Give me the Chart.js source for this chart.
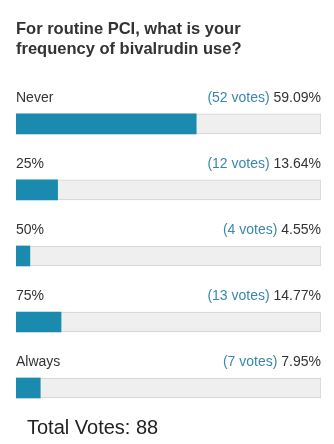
<!DOCTYPE html>
<html>
<head>
<meta charset="utf-8">
<script src="https://cdn.jsdelivr.net/npm/chart.js@4"></script>
<style>
  html, body { margin: 0; padding: 0; background: #ffffff; }
  #wrap { width: 334px; height: 444px; position: relative; }
</style>
</head>
<body>
<div id="wrap"><canvas id="poll"></canvas></div>
<script>
// Poll answers, vote counts and shares
const answers = ['Never', '25%', '50%', '75%', 'Always'];
const votes = [52, 12, 4, 13, 7];
const percents = [59.09, 13.64, 4.55, 14.77, 7.95];
const fullTrack = [100, 100, 100, 100, 100];
const totalVotes = 88;
const question = ['For routine PCI, what is your', 'frequency of bivalrudin use?'];

// Draws the answer label and the vote count / percentage above each bar,
// plus the total line under the last bar.
const pollLabels = {
  id: 'pollLabels',
  afterDatasetsDraw(chart) {
    const ctx = chart.ctx;
    const meta = chart.getDatasetMeta(0);
    const area = chart.chartArea;
    ctx.save();
    ctx.font = '14px "Liberation Sans", Arial, sans-serif';
    ctx.textBaseline = 'middle';
    meta.data.forEach((bar, i) => {
      const y = bar.y - 26;
      ctx.fillStyle = '#333333';
      ctx.textAlign = 'left';
      ctx.fillText(answers[i], area.left, y);
      const pct = percents[i].toFixed(2) + '%';
      const cnt = '(' + votes[i] + ' votes) ';
      ctx.textAlign = 'right';
      ctx.fillText(pct, area.right, y);
      const w = ctx.measureText(pct).width;
      ctx.fillStyle = '#3a87ad';
      ctx.fillText(cnt, area.right - w, y);
    });
    ctx.font = '20px "Liberation Sans", Arial, sans-serif';
    ctx.fillStyle = '#222222';
    ctx.textAlign = 'left';
    ctx.fillText('Total Votes: ' + totalVotes, area.left + 11, area.bottom + 7);
    ctx.restore();
  }
};

new Chart(document.getElementById('poll'), {
  type: 'bar',
  data: {
    labels: answers,
    datasets: [
      {
        data: percents,
        backgroundColor: '#1a8aae',
        borderWidth: 0,
        barThickness: 20,
        grouped: false,
        order: 0
      },
      {
        data: fullTrack,
        backgroundColor: '#efefef',
        borderColor: '#d2d2d2',
        borderWidth: 1,
        barThickness: 20,
        grouped: false,
        order: 1
      }
    ]
  },
  options: {
    indexAxis: 'y',
    responsive: true,
    maintainAspectRatio: false,
    animation: false,
    layout: { padding: { left: 16, right: 13, top: 0, bottom: 23 } },
    scales: {
      x: { display: false, min: 0, max: 100 },
      y: { display: false, offset: true }
    },
    plugins: {
      legend: { display: false },
      tooltip: { enabled: false },
      title: {
        display: true,
        text: question,
        align: 'start',
        color: '#333333',
        font: { family: '"Liberation Sans", Arial, sans-serif', size: 16.5, weight: 'bold', lineHeight: 1.27 },
        padding: { top: 18.5, bottom: 30.5 }
      }
    }
  },
  plugins: [pollLabels]
});
</script>
</body>
</html>
